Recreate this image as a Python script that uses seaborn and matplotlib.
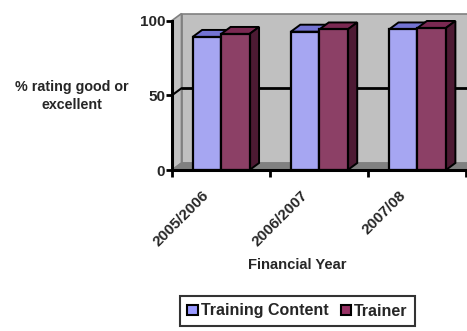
import numpy as np
import pandas as pd
import matplotlib
matplotlib.use("Agg")
import matplotlib.pyplot as plt
import matplotlib.transforms as mtransforms
from matplotlib.patches import Polygon, Patch
import seaborn as sns

# Survey results per financial year
years = ["2005/2006", "2006/2007", "2007/08"]
training_content = [89, 92.5, 94]
trainer = [91, 94, 95]
series_names = ["Training Content", "Trainer"]
y_ticks = [0, 50, 100]

FRONT = {"Training Content": "#9999FF", "Trainer": "#993366"}
TOP = {"Training Content": "#7373D2", "Trainer": "#7A2952"}
SIDE = {"Training Content": "#5C5CA8", "Trainer": "#4D1A33"}

df = pd.DataFrame({
    "year": years * 2,
    "value": training_content + trainer,
    "series": [series_names[0]] * 3 + [series_names[1]] * 3,
})

sns.set_style("white")
plt.rcParams["font.family"] = ["Liberation Sans", "DejaVu Sans"]
plt.rcParams["font.weight"] = "bold"

W, H, DPI = 467, 331, 100
fig = plt.figure(figsize=(W / DPI, H / DPI), dpi=DPI)
ax = fig.add_axes([172 / W, 1 - 170 / H, (466.5 - 172) / W, (170 - 20.5) / H])
ax.set_facecolor("none")

sns.barplot(data=df, x="year", y="value", hue="series", order=years,
            hue_order=series_names, palette=FRONT, width=0.58, gap=0,
            edgecolor="black", linewidth=1.6, legend=False, ax=ax, zorder=3)
ax.set_xlim(-0.5, 2.5)
ax.set_ylim(0, 100)

# depth offset of the 3-D box, in display pixels
DX, DY = 9.5, 7.0


def shift(x, y):
    p = ax.transData.transform((x, y))
    return ax.transData.inverted().transform(p + np.array([DX, DY]))


def poly(pts, fc, ec, lw, z):
    ax.add_patch(Polygon(pts, closed=True, facecolor=fc, edgecolor=ec,
                         linewidth=lw, zorder=z, clip_on=False))


x0, x1 = -0.5, 2.5
# walls and floor
poly([(x0, 0), (x0, 100), shift(x0, 100), shift(x0, 0)], "#C0C0C0", "#808080", 1.2, 0.5)
poly([shift(x0, 0), shift(x0, 100), shift(x1, 100), shift(x1, 0)], "#C0C0C0", "#808080", 1.2, 0.4)
poly([(x0, 0), (x1, 0), shift(x1, 0), shift(x0, 0)], "#808080", "#808080", 1.0, 0.6)

# gridline on the back wall
g0, g1 = shift(x0, 50), shift(x1, 50)
ax.plot([g0[0], g1[0]], [g0[1], g1[1]], color="black", lw=2, zorder=1, clip_on=False)
ax.plot([x0, g0[0]], [50, g0[1]], color="black", lw=1.5, zorder=1, clip_on=False)

# 3-D top and side faces of each bar
for i, bar in enumerate(ax.patches[:6]):
    name = series_names[i // 3]
    bx, bw, bh = bar.get_x(), bar.get_width(), bar.get_height()
    z = 3 if i < 3 else 4
    bar.set_zorder(z)
    poly([(bx, bh), (bx + bw, bh), shift(bx + bw, bh), shift(bx, bh)], TOP[name], "black", 1.4, z - 0.1)
    poly([(bx + bw, 0), (bx + bw, bh), shift(bx + bw, bh), shift(bx + bw, 0)], SIDE[name], "black", 1.4, z - 0.1)

# axes lines and ticks
for s in ["top", "right"]:
    ax.spines[s].set_visible(False)
for s in ["left", "bottom"]:
    ax.spines[s].set_linewidth(2.2)
    ax.spines[s].set_color("black")
    ax.spines[s].set_zorder(6)

ax.set_yticks(y_ticks)
ax.set_yticklabels([str(v) for v in y_ticks], fontsize=11, fontweight="bold")
ax.tick_params(axis="y", direction="out", length=4, width=2, pad=1, color="black", left=True)

ax.set_xticks(range(len(years)))
ax.set_xticklabels(years, rotation=45, ha="right", fontsize=11, fontweight="bold")
ax.tick_params(axis="x", which="major", length=0, pad=13)
ax.set_xticks([-0.5, 0.5, 1.5, 2.5], minor=True)
ax.tick_params(axis="x", which="minor", direction="out", length=5, width=2, color="black", bottom=True)
shift_lbl = mtransforms.ScaledTranslation(-9 / DPI, 0, fig.dpi_scale_trans)
for lbl in ax.get_xticklabels():
    lbl.set_transform(lbl.get_transform() + shift_lbl)
ax.set_xlabel("")
ax.set_ylabel("")

fig.text(72 / W, 1 - 96 / H, "% rating good or\nexcellent", ha="center", va="center",
         fontsize=10.3, fontweight="bold", linespacing=1.4)
fig.text(297 / W, 1 - 265 / H, "Financial Year", ha="center", va="center",
         fontsize=10.6, fontweight="bold")

handles = [Patch(facecolor=FRONT[n], edgecolor="black", linewidth=1.5) for n in series_names]
leg = fig.legend(handles, series_names, loc="center", bbox_to_anchor=(297.5 / W, 1 - 311 / H),
                 ncol=2, frameon=True, fancybox=False, prop={"size": 11.5, "weight": "bold"},
                 handlelength=0.65, handleheight=0.65, handletextpad=0.2, columnspacing=0.75,
                 borderpad=0.45)
leg.get_frame().set_edgecolor("black")
leg.get_frame().set_linewidth(1.5)

fig.savefig("out.png", dpi=DPI, facecolor="white")
